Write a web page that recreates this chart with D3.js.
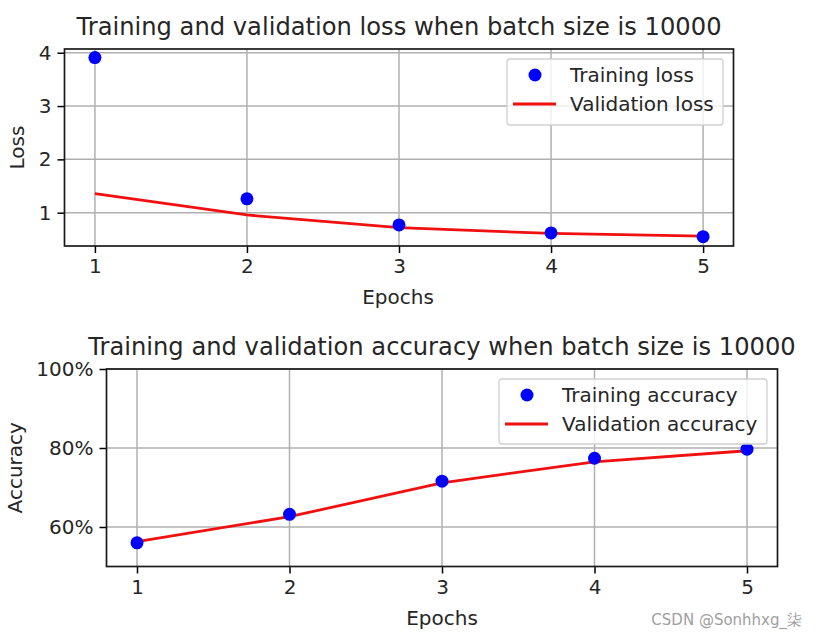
<!DOCTYPE html>
<html><head><meta charset="utf-8">
<script src="https://cdn.jsdelivr.net/npm/d3@7"></script>
<style>
html,body{margin:0;padding:0;background:#fff;}
text{font-family:"DejaVu Sans",sans-serif;fill:#262626;}
</style></head>
<body>
<svg id="c" width="816" height="638"></svg>
<script>
const epochs = [1, 2, 3, 4, 5];
const trainLoss = [3.91, 1.26, 0.77, 0.62, 0.55];
const valLoss = [1.356, 0.957, 0.72, 0.61, 0.56];
const trainAcc = [0.560, 0.632, 0.716, 0.774, 0.797];
const valAcc = [0.563, 0.626, 0.712, 0.765, 0.793];
const lossTicks = [1, 2, 3, 4];
const accTicks = [0.6, 0.8, 1.0];

const svg = d3.select("#c");
const FS_TICK = 20, FS_TITLE = 24.2;

function panel(o) {
  const g = svg.append("g");
  const x = d3.scaleLinear().domain([0.8, 5.2]).range([o.left, o.right]);
  const y = d3.scaleLinear().domain(o.ydom).range([o.bottom, o.top]);
  // grid
  g.append("g").selectAll("line").data(epochs).join("line")
    .attr("x1", d => x(d)).attr("x2", d => x(d)).attr("y1", o.top).attr("y2", o.bottom)
    .attr("stroke", "#b0b0b0").attr("stroke-width", 1.5);
  g.append("g").selectAll("line").data(o.yticks).join("line")
    .attr("y1", d => y(d)).attr("y2", d => y(d)).attr("x1", o.left).attr("x2", o.right)
    .attr("stroke", "#b0b0b0").attr("stroke-width", 1.5);
  // axes
  const xa = g.append("g").attr("transform", `translate(0,${o.bottom})`)
    .call(d3.axisBottom(x).tickValues(epochs).tickFormat(d3.format("d")).tickSizeInner(7).tickSizeOuter(0).tickPadding(6));
  const ya = g.append("g").attr("transform", `translate(${o.left},0)`)
    .call(d3.axisLeft(y).tickValues(o.yticks).tickFormat(o.fmt).tickSizeInner(7).tickSizeOuter(0).tickPadding(6));
  [xa, ya].forEach(a => {
    a.select(".domain").remove();
    a.selectAll("line").attr("stroke", "#000").attr("stroke-width", 1.5);
    a.selectAll("text").attr("font-size", FS_TICK).attr("font-family", "DejaVu Sans").attr("fill", "#262626");
  });
  // line
  g.append("path").datum(epochs.map((e, i) => [e, o.val[i]]))
    .attr("fill", "none").attr("stroke", "#f01010").attr("stroke-width", 2.8)
    .attr("d", d3.line().x(d => x(d[0])).y(d => y(d[1])));
  g.append("g").selectAll("circle").data(epochs.map((e, i) => [e, o.train[i]])).join("circle")
    .attr("cx", d => x(d[0])).attr("cy", d => y(d[1])).attr("r", 6.5).attr("fill", "#0000ff");
  // spines
  g.append("rect").attr("x", o.left).attr("y", o.top).attr("width", o.right - o.left).attr("height", o.bottom - o.top)
    .attr("fill", "none").attr("stroke", "#1a1a1a").attr("stroke-width", 1.7);
  // legend
  const L = o.legend;
  g.append("rect").attr("x", L.x).attr("y", L.y).attr("width", L.w).attr("height", L.h).attr("rx", 3)
    .attr("fill", "rgba(255,255,255,0.8)").attr("stroke", "#d0d0d0").attr("stroke-width", 1.3);
  g.append("circle").attr("cx", L.x + 28).attr("cy", L.y + 16).attr("r", 6.5).attr("fill", "#0000ff");
  g.append("line").attr("x1", L.x + 6).attr("x2", L.x + 49).attr("y1", L.y + 45).attr("y2", L.y + 45)
    .attr("stroke", "#f01010").attr("stroke-width", 2.8);
  g.append("text").attr("x", L.x + o.txo).attr("y", L.y + 16).attr("dy", "0.35em").attr("font-size", FS_TICK).text(o.names[0]);
  g.append("text").attr("x", L.x + o.txo).attr("y", L.y + 45).attr("dy", "0.35em").attr("font-size", FS_TICK).text(o.names[1]);
  // titles
  const cx = (o.left + o.right) / 2;
  g.append("text").attr("x", cx).attr("y", o.top - 14).attr("text-anchor", "middle").attr("font-size", FS_TITLE).text(o.title);
  g.append("text").attr("x", o.xlabX).attr("y", o.bottom + 58).attr("text-anchor", "middle").attr("font-size", FS_TICK).text("Epochs");
  g.append("text").attr("transform", `translate(${o.ylabX},${(o.top + o.bottom) / 2}) rotate(-90)`)
    .attr("text-anchor", "middle").attr("font-size", FS_TICK).text(o.ylabel);
}

panel({left: 64.5, right: 733.5, top: 49, bottom: 246, ydom: [0.375, 4.07], yticks: lossTicks,
  fmt: d3.format("d"), train: trainLoss, val: valLoss, names: ["Training loss", "Validation loss"],
  title: "Training and validation loss when batch size is 10000", ylabel: "Loss", ylabX: 24, xlabX: 398,
  legend: {x: 507, y: 59, w: 216, h: 66}, txo: 63});
panel({left: 106.5, right: 777.5, top: 369, bottom: 566.5, ydom: [0.5, 1.0], yticks: accTicks,
  fmt: d3.format(".0%"), train: trainAcc, val: valAcc, names: ["Training accuracy", "Validation accuracy"],
  title: "Training and validation accuracy when batch size is 10000", ylabel: "Accuracy", ylabX: 22, xlabX: 442,
  legend: {x: 499, y: 379, w: 268, h: 65}, txo: 63});

svg.append("text").attr("x", 802).attr("y", 625).attr("text-anchor", "end")
  .attr("font-family", "'Noto Sans CJK SC', sans-serif").attr("font-size", 15).style("fill", "#a0a0a0")
  .text("CSDN @Sonhhxg_柒");
</script>
</body></html>
